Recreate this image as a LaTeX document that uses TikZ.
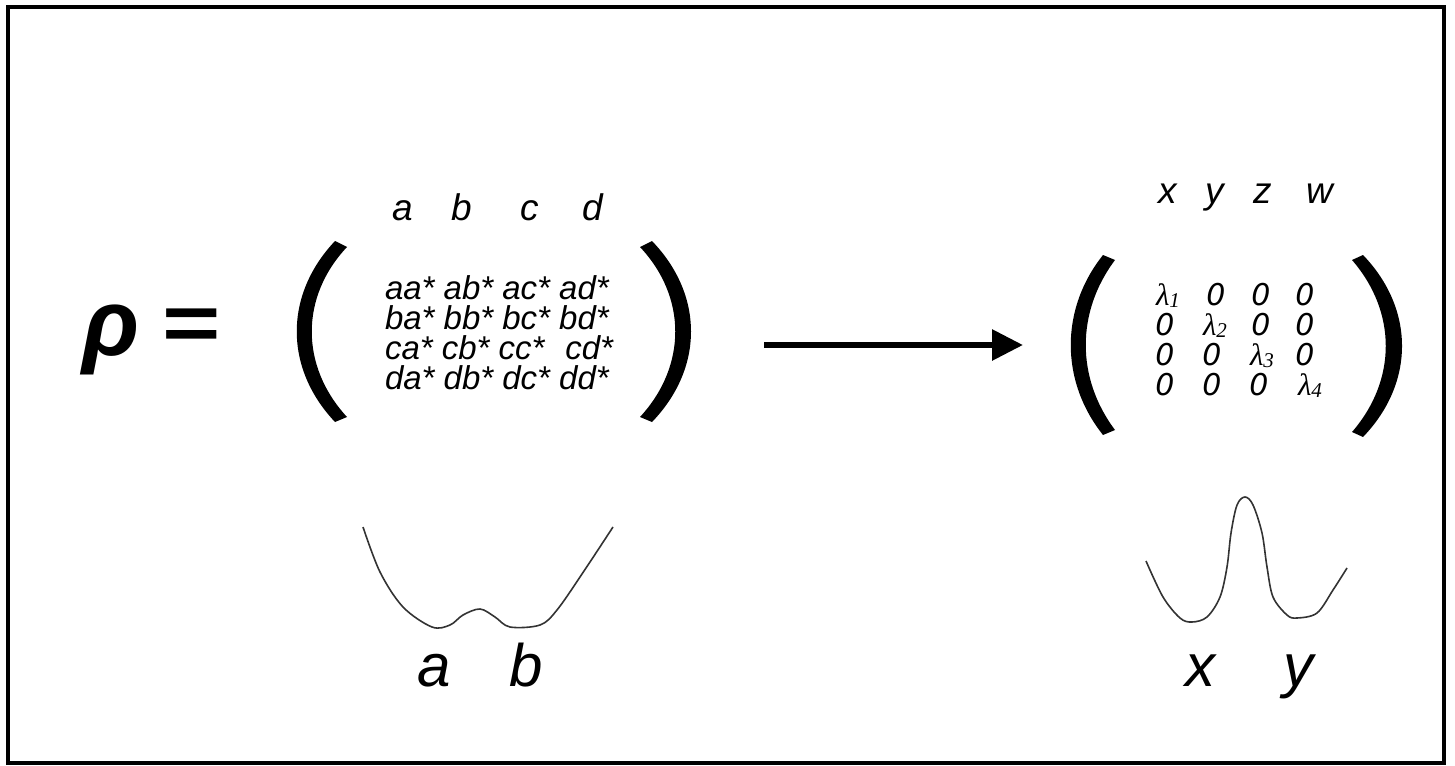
\documentclass[tikz,border=0pt]{standalone}
\usepackage{fontspec}
\setmainfont{Liberation Sans}
\newfontfamily\dvs{DejaVu Sans}
\newfontfamily\tms{Liberation Serif}
\usetikzlibrary{arrows.meta}
\tikzset{
  txt/.style={inner sep=0pt, outer sep=0pt, font=\itshape},
  hdr/.style={txt, anchor=base, font=\fontsize{37}{37}\selectfont\itshape},
  ent/.style={txt, anchor=base west, font=\fontsize{33}{33}\selectfont\itshape},
  cell/.style={txt, anchor=base, font=\fontsize{30}{30}\selectfont\dvs\itshape},
  lam/.style={txt, anchor=base, font=\fontsize{31}{31}\selectfont\tms\itshape},
  big/.style={txt, anchor=base, font=\fontsize{60}{60}\selectfont\itshape},
  paren/.style={fill=black, draw=none},
  wave/.style={draw=black!80, line width=1.6pt, line join=round},
  bigarrow/.style={line width=6pt, -{Triangle[length=31pt,width=30pt]}}
}
\newcommand{\lmb}[1]{λ\raisebox{-0.2ex}{\fontsize{21}{21}\selectfont #1}}
\begin{document}
\begin{tikzpicture}[x=1pt,y=-1pt]
\useasboundingbox (0,0) rectangle (1455,765);
\draw[line width=4pt] (8,7) rectangle (1444,763);

% rho =
\node[txt, anchor=base west, font=\fontsize{94}{94}\selectfont\bfseries\itshape] (rho) at (82,355) {ρ};
\node[txt, font=\fontsize{80}{80}\selectfont\bfseries] (eq) at (192,330) {\scalebox{1.25}[1]{=}};

% left matrix
\node[hdr] (ha) at (403,220) {a};
\node[hdr] (hb) at (462,220) {b};
\node[hdr] (hc) at (530,220) {c};
\node[hdr] (hd) at (593,220) {d};
\node[ent] (r1) at (385,299) {aa* ab* ac* ad*};
\node[ent] (r2) at (385,329) {ba* bb* bc* bd*};
\node[ent] (r3) at (385,359) {ca* cb* cc*\hspace{0.35em} cd*};
\node[ent] (r4) at (385,389) {da* db* dc* dd*};
\path[paren] (335,241) .. controls (284,295) and (284,368) .. (335,422)
  -- (347,417) .. controls (300,366) and (300,297) .. (347,247) -- cycle;
\path[paren] (652,241) .. controls (704,295) and (704,368) .. (652,422)
  -- (640,417) .. controls (687,366) and (687,297) .. (640,247) -- cycle;

% arrow
\coordinate (as) at (764,345);
\coordinate (ae) at (1023,345);
\draw[bigarrow] (as) -- (ae);

% right matrix
\node[hdr] (hx) at (1168,203) {x};
\node[hdr] (hy) at (1215,203) {y};
\node[hdr] (hz) at (1263,203) {z};
\node[hdr] (hw) at (1320,203) {w};
\node[lam]  (m11) at (1168,305) {\lmb{1}};
\node[cell] (m12) at (1216,305) {0};
\node[cell] (m13) at (1261,305) {0};
\node[cell] (m14) at (1305,305) {0};
\node[cell] (m21) at (1165,335) {0};
\node[lam]  (m22) at (1215,335) {\lmb{2}};
\node[cell] (m23) at (1261,335) {0};
\node[cell] (m24) at (1305,335) {0};
\node[cell] (m31) at (1165,365) {0};
\node[cell] (m32) at (1212,365) {0};
\node[lam]  (m33) at (1262,365) {\lmb{3}};
\node[cell] (m34) at (1305,365) {0};
\node[cell] (m41) at (1165,395) {0};
\node[cell] (m42) at (1212,395) {0};
\node[cell] (m43) at (1259,395) {0};
\node[lam]  (m44) at (1310,395) {\lmb{4}};
\path[paren] (1103,255) .. controls (1060,309) and (1060,381) .. (1103,435)
  -- (1115,430) .. controls (1076,378) and (1076,312) .. (1115,260) -- cycle;
\path[paren] (1363,255) .. controls (1415,309) and (1415,383) .. (1363,437)
  -- (1352,432) .. controls (1397,380) and (1397,312) .. (1352,260) -- cycle;

% double well
\draw[wave] plot[smooth, tension=0.55] coordinates {
 (363,527) (380,572) (403,607) (432,627) (450,625) (463,615) (480,609)
 (495,617) (510,627) (540,625) (557,610) (582,574) (613,527)};
\node[big] (la) at (434,686) {a};
\node[big] (lb) at (526,686) {b};

% single peak
\draw[wave] plot[smooth, tension=0.55] coordinates {
 (1146,561) (1163,597) (1180,618) (1192,622) (1207,617) (1220,597)
 (1227,567) (1231,533) (1237,505) (1245,497) (1253,505) (1262,533)
 (1267,567) (1273,597) (1287,615) (1297,618) (1317,613) (1333,590) (1347,568)};
\node[big] (lx) at (1200,686) {x};
\node[big] (ly) at (1298,686) {y};
\end{tikzpicture}
\end{document}
